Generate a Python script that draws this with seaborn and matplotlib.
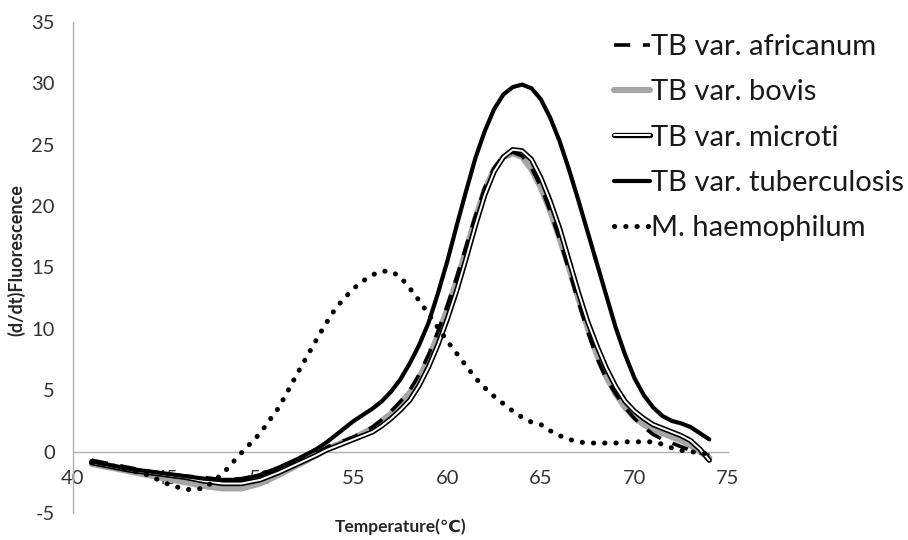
"""
plot.py

Recrea la curva de fusión (primera derivada de fluorescencia) para
cinco especies de micobacterias y guarda la figura en out.png.
"""

import pandas as pd
import matplotlib.pyplot as plt
import matplotlib.patheffects as pe
import seaborn as sns


# =========================
# Datos
# =========================

temperature = [
    41, 42, 43, 44, 45, 46, 47, 48, 49, 50, 51, 52, 53,
    53.5, 54, 54.5, 55, 55.5, 56, 56.5, 57, 57.5, 58,
    58.5, 59, 59.5, 60, 60.5, 61, 61.5, 62, 62.5, 63,
    63.5, 64, 64.5, 65, 65.5, 66, 66.5, 67, 67.5, 68,
    68.5, 69, 69.5, 70, 70.5, 71, 71.5, 72, 72.5, 73,
    73.5, 74,
]

africanum = [
    -0.7, -1.0, -1.3, -1.6, -1.8, -2.0, -2.1, -2.3, -2.2, -1.9, -1.4, -0.8, -0.1,
    0.3, 0.7, 0.9, 1.2, 1.6, 2.0, 2.6, 3.3, 4.1, 5.0,
    6.3, 7.9, 9.8, 11.9, 14.2, 16.7, 19.2, 21.5, 23.1, 24.1,
    24.4, 24.1, 23.1, 21.6, 19.6, 17.3, 14.8, 12.2, 9.8, 7.6,
    5.9, 4.7, 3.6, 2.7, 2.0, 1.4, 1.0, 0.7, 0.4, 0.1,
    -0.1, -0.3,
]

bovis = [
    -1.0, -1.3, -1.6, -1.9, -2.2, -2.5, -2.8, -3.0, -3.0, -2.6, -1.9, -1.1, -0.3,
    0.1, 0.5, 0.8, 1.1, 1.5, 1.9, 2.5, 3.1, 3.9, 4.8,
    6.0, 7.6, 9.5, 11.6, 13.9, 16.4, 19.0, 21.3, 23.0, 24.0,
    24.3, 24.0, 23.0, 21.5, 19.6, 17.4, 15.0, 12.5, 10.1, 7.9,
    6.1, 4.7, 3.6, 2.8, 2.2, 1.8, 1.5, 1.2, 0.9, 0.5,
    0.0, -0.5,
]

microti = [
    -0.9, -1.2, -1.5, -1.7, -1.9, -2.1, -2.4, -2.6, -2.6, -2.3, -1.7, -1.0, -0.3,
    0.1, 0.4, 0.7, 1.0, 1.3, 1.6, 2.1, 2.7, 3.4, 4.2,
    5.4, 6.9, 8.7, 10.8, 13.1, 15.7, 18.4, 20.9, 22.8, 24.0,
    24.6, 24.5, 23.8, 22.3, 20.4, 18.2, 15.6, 13.0, 10.6, 8.6,
    6.8, 5.3, 4.1, 3.3, 2.7, 2.2, 1.9, 1.6, 1.3, 0.9,
    0.2, -0.7,
]

tuberculosis = [
    -0.8, -1.1, -1.4, -1.6, -1.8, -2.0, -2.2, -2.3, -2.3, -1.9, -1.3, -0.6, 0.2,
    0.7, 1.3, 1.9, 2.5, 3.0, 3.5, 4.1, 4.9, 5.9, 7.2,
    8.7, 10.5, 12.9, 15.5, 18.4, 21.2, 23.9, 26.1, 27.9, 29.1,
    29.7, 29.9, 29.6, 28.7, 27.2, 25.3, 23.0, 20.5, 17.9, 15.3,
    12.7, 10.1, 7.9, 6.0, 4.6, 3.6, 2.9, 2.5, 2.3, 2.0,
    1.5, 1.0,
]

haemophilum = [
    -0.8, -1.1, -1.5, -1.9, -2.6, -3.1, -3.0, -1.8, -0.1, 1.5, 3.6, 6.4, 9.1,
    10.4, 11.6, 12.5, 13.3, 13.9, 14.4, 14.7, 14.7, 14.2, 13.3,
    12.3, 11.2, 10.1, 9.0, 8.0, 7.0, 6.0, 5.2, 4.5, 3.9,
    3.3, 2.8, 2.4, 2.2, 1.7, 1.3, 1.0, 0.8, 0.7, 0.7,
    0.7, 0.7, 0.8, 0.8, 0.8, 0.8, 0.6, 0.3, 0.1, 0.0,
    -0.1, -0.2,
]

series_labels = [
    "TB var. africanum",
    "TB var. bovis",
    "TB var. microti",
    "TB var. tuberculosis",
    "M. haemophilum",
]

x_ticks = [40, 45, 50, 55, 60, 65, 70, 75]
y_ticks = [-5, 0, 5, 10, 15, 20, 25, 30, 35]


def build_dataframe() -> pd.DataFrame:
    """
    Junta todas las series en un DataFrame en formato largo.
    """

    values = [africanum, bovis, microti, tuberculosis, haemophilum]
    frames = []
    for label, serie in zip(series_labels, values):
        frames.append(pd.DataFrame({
            "temperature": temperature,
            "value": serie,
            "species": label,
        }))

    return pd.concat(frames, ignore_index=True)


def main():
    sns.set_style("white")
    plt.rcParams["font.family"] = ["Lato", "DejaVu Sans"]
    plt.rcParams["axes.unicode_minus"] = False

    df = build_dataframe()

    fig = plt.figure(figsize=(9.08, 5.4), dpi=100)
    ax = fig.add_axes([73 / 908, 1 - 513 / 540, (728 - 73) / 908, (513 - 22) / 540])

    # Estilo de cada curva (tipo Excel)
    styles = {
        "TB var. africanum": dict(color="black", lw=2.6, linestyle=(0, (4.5, 3.5)), zorder=4),
        "TB var. bovis": dict(color="#a6a6a6", lw=4.4, zorder=3),
        "TB var. microti": dict(
            color="white", lw=1.4, zorder=5,
            path_effects=[pe.Stroke(linewidth=3.8, foreground="black"), pe.Normal()],
        ),
        "TB var. tuberculosis": dict(color="black", lw=3.0, zorder=6),
        "M. haemophilum": dict(
            color="black", lw=3.6, linestyle=(0, (0.05, 2.2)),
            dash_capstyle="round", zorder=7,
        ),
    }

    for label in series_labels:
        sub = df[df["species"] == label]
        sns.lineplot(
            data=sub, x="temperature", y="value", ax=ax,
            label=label, sort=False, estimator=None, **styles[label]
        )

    # =========================
    # Ejes
    # =========================

    ax.set_xlim(40, 75)
    ax.set_ylim(-5, 35)
    ax.set_xticks(x_ticks)
    ax.set_yticks(y_ticks)

    for side in ["top", "right"]:
        ax.spines[side].set_visible(False)
    ax.spines["bottom"].set_position(("data", 0))
    for side in ["left", "bottom"]:
        ax.spines[side].set_color("#b0b0b0")
        ax.spines[side].set_linewidth(1.0)

    ax.tick_params(axis="both", which="major", direction="out", length=5,
                   width=1.0, color="#b0b0b0", labelsize=14.5, labelcolor="#333333")
    ax.tick_params(axis="x", pad=8)
    ax.tick_params(axis="y", pad=8)

    ax.set_xlabel("Temperature(\u2103)", fontsize=12.5, fontweight="bold",
                  color="#262626")
    ax.xaxis.set_label_coords(0.5, -0.012)
    ax.set_ylabel("(d/dt)Fluorescence", fontsize=13, fontweight="bold",
                  color="#262626")
    ax.yaxis.set_label_coords(-0.072, 0.515)

    # =========================
    # Leyenda
    # =========================

    ax.legend(
        loc="upper left",
        bbox_to_anchor=(614 / 908, 1 - 34 / 540),
        bbox_transform=fig.transFigure,
        frameon=False,
        fontsize=21,
        handlelength=1.22,
        handletextpad=0.05,
        labelspacing=0.66,
        borderpad=0,
        borderaxespad=0,
        labelcolor="#1a1a1a",
    )

    fig.savefig("out.png", dpi=100, facecolor="white")
    plt.close(fig)


if __name__ == "__main__":
    main()
